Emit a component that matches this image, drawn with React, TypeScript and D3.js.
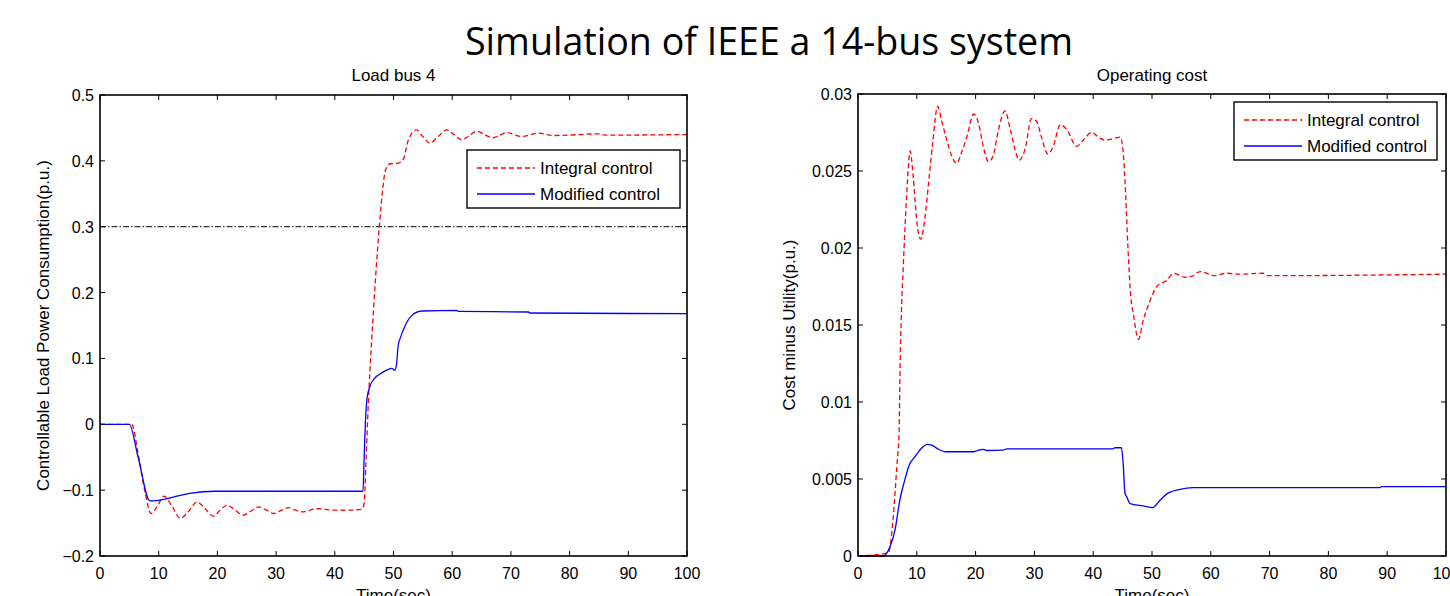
import React from 'react';
import * as d3 from 'd3';

// ---- data ----
// left panel: load bus 4, controllable load power (p.u.)
const loadIntegralT = [0, 5.4, 6.5, 7.6, 8.7, 9.8, 10.9, 12.3, 13.7, 15.1, 16.5, 17.9, 19.3, 20.4, 21.6, 23.0, 24.4, 25.7, 27.1, 28.3, 29.6, 30.8, 32.1, 33.2, 34.4, 35.6, 36.9, 39.0, 41.5, 44.6, 45.0, 45.3, 45.7, 46.3, 47.0, 47.6, 48.2, 48.6, 49.4, 50.8, 51.7, 52.5, 53.9, 55.0, 56.2, 57.6, 59.1, 60.3, 61.6, 62.9, 64.2, 65.5, 66.9, 68.1, 69.3, 70.5, 71.8, 74.7, 77.2, 85.2, 86.0, 100];
const loadIntegralV = [0, 0, -0.045, -0.1, -0.1355, -0.124, -0.109, -0.125, -0.143, -0.132, -0.118, -0.128, -0.1396, -0.131, -0.123, -0.13, -0.138, -0.132, -0.1255, -0.13, -0.1355, -0.131, -0.1265, -0.13, -0.133, -0.131, -0.128, -0.13, -0.1305, -0.129, -0.12, -0.06, 0.03, 0.13, 0.23, 0.302, 0.36, 0.385, 0.3956, 0.3965, 0.403, 0.431, 0.447, 0.437, 0.427, 0.437, 0.447, 0.44, 0.432, 0.438, 0.445, 0.44, 0.435, 0.439, 0.443, 0.44, 0.437, 0.442, 0.4385, 0.441, 0.439, 0.44];
const loadModifiedT = [0, 5.0, 6.5, 8.5, 9.6, 11.4, 13.1, 15.3, 19.6, 44.8, 45.0, 45.2, 45.5, 46.0, 46.8, 48.0, 49.0, 49.7, 50.2, 50.5, 50.8, 51.2, 52.0, 53.1, 54.8, 60.8, 61.0, 73.0, 73.2, 100];
const loadModifiedV = [0, 0, -0.05, -0.1163, -0.116, -0.113, -0.109, -0.105, -0.1017, -0.1017, -0.05, 0.0, 0.04, 0.058, 0.07, 0.078, 0.083, 0.085, 0.082, 0.09, 0.12, 0.132, 0.15, 0.165, 0.172, 0.173, 0.1715, 0.1705, 0.169, 0.168];
const loadLimit = 0.3;

// right panel: operating cost, cost minus utility (p.u.)
const costIntegralT = [0, 5.15, 6.0, 6.6, 7.0, 7.14, 7.4, 7.7, 8.0, 8.3, 8.55, 8.84, 9.4, 9.98, 10.66, 11.4, 12.1, 12.7, 13.55, 14.2, 15.1, 15.9, 16.8, 17.6, 18.5, 19.7, 20.5, 21.3, 22.2, 23.0, 23.9, 25.0, 25.9, 26.7, 27.4, 28.4, 29.5, 30.4, 31.2, 32.3, 33.2, 34.4, 35.5, 37.2, 38.3, 39.7, 40.9, 42.0, 43.4, 44.6, 45.0, 45.4, 45.9, 46.4, 46.8, 47.7, 48.5, 49.7, 50.8, 52.5, 53.7, 55.6, 56.7, 58.2, 60.7, 62.7, 65.0, 68.9, 69.6, 100];
const costIntegralV = [0, 0.0002, 0.00255, 0.0058, 0.0082, 0.0119, 0.016, 0.0188, 0.0214, 0.0236, 0.0252, 0.0263, 0.0246, 0.0218, 0.02057, 0.022, 0.0246, 0.0268, 0.0292, 0.0283, 0.027, 0.026, 0.0255, 0.0262, 0.0272, 0.0287, 0.0281, 0.0266, 0.0256, 0.026, 0.0277, 0.0289, 0.0277, 0.0264, 0.0257, 0.0264, 0.0284, 0.0282, 0.0272, 0.0261, 0.0266, 0.028, 0.0277, 0.0266, 0.027, 0.0275, 0.0272, 0.027, 0.0271, 0.0272, 0.0266, 0.0244, 0.0201, 0.0168, 0.0158, 0.01407, 0.0153, 0.0166, 0.0175, 0.0179, 0.01836, 0.0181, 0.01815, 0.01847, 0.0182, 0.01836, 0.0183, 0.01836, 0.0182, 0.0183];
const costModifiedT = [0, 4.3, 5.44, 6.3, 7.1, 8.0, 8.7, 9.7, 10.8, 11.8, 12.5, 13.7, 14.8, 19.6, 20.2, 21.3, 21.9, 24.7, 25.3, 43.4, 43.7, 44.8, 45.1, 45.4, 45.7, 46.3, 48.5, 50.1, 51.4, 52.8, 54.8, 56.9, 88.8, 89.0, 100];
const costModifiedV = [0, 0, 0.0006, 0.0017, 0.0036, 0.005, 0.0059, 0.00645, 0.007, 0.00725, 0.0072, 0.00693, 0.00677, 0.00677, 0.00683, 0.00693, 0.00685, 0.00688, 0.00695, 0.00695, 0.00703, 0.00703, 0.006, 0.0041, 0.00385, 0.0034, 0.00325, 0.00314, 0.00364, 0.0041, 0.00433, 0.00444, 0.00444, 0.0045, 0.0045];

const timeTicks = [0, 10, 20, 30, 40, 50, 60, 70, 80, 90, 100];
const loadTicks = [-0.2, -0.1, 0, 0.1, 0.2, 0.3, 0.4, 0.5];
const costTicks = [0, 0.005, 0.01, 0.015, 0.02, 0.025, 0.03];
const seriesNames = ['Integral control', 'Modified control'];

const FONT = '"Liberation Sans", Arial, sans-serif';
const RED = '#ff0000';
const BLUE = '#0000ff';

type Pt = { t: number; v: number };
const zip = (t: number[], v: number[]): Pt[] => t.map((d, i) => ({ t: d, v: v[i] }));

function Panel({ x0, x1, y0, y1, yDomain, yTicks, fmt, title, yLabel, labelX, red, blue, limit, legend }: any) {
  const x = d3.scaleLinear().domain([0, 100]).range([x0, x1]);
  const y = d3.scaleLinear().domain(yDomain).range([y1, y0]);
  // monotone keeps the oscillations smooth without overshooting the steps
  const line = d3.line<Pt>().x((d) => x(d.t)).y((d) => y(d.v)).curve(d3.curveMonotoneX);
  const tk = 5;
  const cx = (x0 + x1) / 2;
  return (
    <g>
      <text x={cx} y={81} textAnchor="middle" fontSize={17} fontFamily={FONT}>{title}</text>
      {limit !== undefined && (
        <line x1={x0} x2={x1} y1={y(limit)} y2={y(limit)} stroke="#000" strokeWidth={1} strokeDasharray="6,2,1.5,2" />
      )}
      <path d={line(red) || ''} fill="none" stroke={RED} strokeWidth={1.3} strokeDasharray="5,3" />
      <path d={line(blue) || ''} fill="none" stroke={BLUE} strokeWidth={1.3} />
      {/* box with inward ticks on all sides */}
      <rect x={x0} y={y0} width={x1 - x0} height={y1 - y0} fill="none" stroke="#000" strokeWidth={1.6} />
      {timeTicks.map((t) => (
        <g key={'x' + t}>
          <line x1={x(t)} x2={x(t)} y1={y1} y2={y1 - tk} stroke="#000" strokeWidth={1} />
          <line x1={x(t)} x2={x(t)} y1={y0} y2={y0 + tk} stroke="#000" strokeWidth={1} />
          <text x={x(t)} y={579} textAnchor="middle" fontSize={16} fontFamily={FONT}>{t}</text>
        </g>
      ))}
      {yTicks.map((v: number) => (
        <g key={'y' + v}>
          <line x1={x0} x2={x0 + tk} y1={y(v)} y2={y(v)} stroke="#000" strokeWidth={1} />
          <line x1={x1} x2={x1 - tk} y1={y(v)} y2={y(v)} stroke="#000" strokeWidth={1} />
          <text x={x0 - 6} y={y(v) + 6} textAnchor="end" fontSize={16} fontFamily={FONT}>{fmt(v)}</text>
        </g>
      ))}
      <text x={cx} y={601} textAnchor="middle" fontSize={17} fontFamily={FONT}>Time(sec)</text>
      <text transform={`translate(${labelX},${(y0 + y1) / 2}) rotate(-90)`} textAnchor="middle" fontSize={17} fontFamily={FONT}>{yLabel}</text>
      <g>
        <rect x={legend.x} y={legend.y} width={legend.w} height={58} fill="#fff" stroke="#000" strokeWidth={1.4} />
        {seriesNames.map((s, i) => (
          <g key={s}>
            <line x1={legend.x + 10} x2={legend.x + 68} y1={legend.y + 18 + i * 26} y2={legend.y + 18 + i * 26}
              stroke={i === 0 ? RED : BLUE} strokeWidth={1.3} strokeDasharray={i === 0 ? '5,3' : undefined} />
            <text x={legend.x + 73} y={legend.y + 24 + i * 26} fontSize={17} fontFamily={FONT}>{s}</text>
          </g>
        ))}
      </g>
    </g>
  );
}

export default function App() {
  return (
    <svg width={1450} height={596} style={{ position: 'absolute', left: 0, top: 0, background: '#fff' }}>
      <rect width={1450} height={596} fill="#fff" />
      <text x={769} y={55} textAnchor="middle" fontSize={38} fontFamily='"Open Sans", sans-serif'
        textLength={608} lengthAdjust="spacingAndGlyphs">Simulation of IEEE a 14-bus system</text>
      <Panel x0={100} x1={687} y0={95} y1={556} yDomain={[-0.2, 0.5]} yTicks={loadTicks}
        fmt={(v: number) => (v === 0 ? '0' : d3.format('.1f')(v))}
        title="Load bus 4" yLabel="Controllable Load Power Consumption(p.u.)" labelX={49}
        red={zip(loadIntegralT, loadIntegralV)} blue={zip(loadModifiedT, loadModifiedV)}
        limit={loadLimit} legend={{ x: 467, y: 150, w: 213 }} />
      <Panel x0={858} x1={1446} y0={94} y1={556} yDomain={[0, 0.03]} yTicks={costTicks}
        fmt={(v: number) => (v === 0 ? '0' : String(+v.toFixed(3)))}
        title="Operating cost" yLabel="Cost minus Utility(p.u.)" labelX={795}
        red={zip(costIntegralT, costIntegralV)} blue={zip(costModifiedT, costModifiedV)}
        legend={{ x: 1234, y: 102, w: 203 }} />
    </svg>
  );
}
